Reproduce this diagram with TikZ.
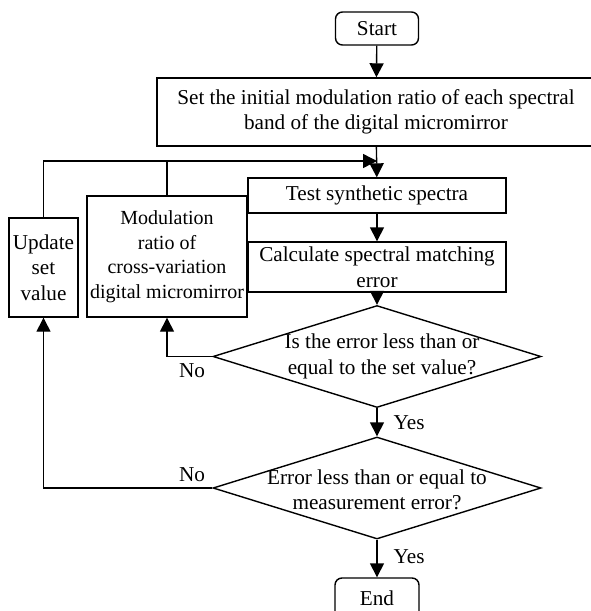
\documentclass[tikz,border=0pt]{standalone}
\usepackage{fontspec}
\setmainfont{Liberation Serif}
\usetikzlibrary{shapes.geometric,arrows.meta}
\begin{document}
\begin{tikzpicture}[x=1pt,y=-1pt,
  every node/.style={font=\fontsize{21.2}{25.5}\selectfont, inner sep=0pt},
  box/.style={draw, line width=1.4pt, rectangle, align=center},
  term/.style={draw, line width=1.4pt, rectangle, rounded corners=7pt, align=center},
  diam/.style={draw, line width=1.4pt, diamond, minimum width=328pt, minimum height=102pt},
  arr/.style={line width=1.4pt, -{Triangle[width=14pt,length=14pt]}},
  ln/.style={line width=1.4pt}]
\useasboundingbox (0,0) rectangle (591,611);
\node[term, minimum width=83pt, minimum height=33pt] (start) at (377,28.5) {Start};
\node[box, minimum width=438pt, minimum height=68pt] (set) at (376,112) {Set the initial modulation ratio of each spectral\\band of the digital micromirror};
\node[box, minimum width=258pt, minimum height=35pt] (test) at (377,195.5) {Test synthetic spectra};
\node[box, minimum width=258pt, minimum height=50pt] (calc) at (377,267) {Calculate spectral matching\\error};
\node[box, minimum width=69pt, minimum height=99pt] (upd) at (43.5,267.5) {Update\\set\\value};
\node[box, minimum width=160pt, minimum height=121pt, font=\fontsize{20}{24.5}\selectfont] (mod) at (167,256.5) {Modulation\\ratio of\\cross-variation\\digital micromirror};
\node[diam, label={[align=center, xshift=5pt]center:Is the error less than or\\equal to the set value?}] (d1) at (377,356.5) {};
\node[diam, label={[align=center, yshift=-2pt]center:Error less than or equal to\\measurement error?}] (d2) at (377,488) {};
\node[term, minimum width=84pt, minimum height=40pt] (end) at (377,598) {End};
\coordinate (merge) at (377,161);
\draw[arr] (start) -- (set);
\draw[arr] (set) -- (test);
\draw[arr] (test) -- (calc);
\draw[arr] (calc) -- (d1);
\draw[arr] (d1) -- node[right=16pt] (yes1) {Yes} (d2);
\draw[arr] (d2) -- node[right=16pt, yshift=2pt] (yes2) {Yes} (end);
\draw[arr] (d1.west) -| (mod.south);
\draw[arr] (d2.west) -| (upd.south);
\draw[arr] (upd.north) |- (merge);
\draw[ln] (mod.north) -- (mod.north |- merge);
\node (no1) at (192,371) {No};
\node (no2) at (192,475) {No};
\end{tikzpicture}
\end{document}
